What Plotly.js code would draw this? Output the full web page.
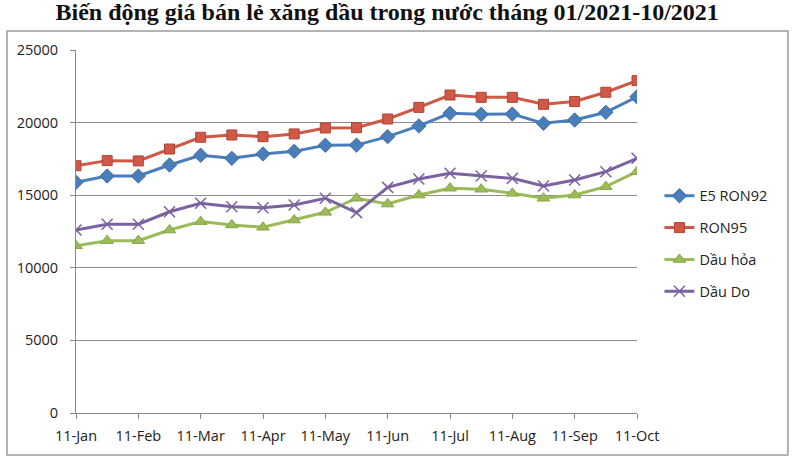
<!DOCTYPE html>
<html>
<head>
<meta charset="utf-8">
<script src="https://cdn.plot.ly/plotly-3.0.1.min.js"></script>
<style>
  html, body { margin: 0; padding: 0; background: #fff; }
  #chart { width: 800px; height: 460px; }
</style>
</head>
<body>
<div id="chart"></div>
<script>
// ------------------------------------------------------------------------------
// DATA (price adjustments every ~15 days)

const dates = ['11-Jan', '26-Jan', '11-Feb', '26-Feb', '11-Mar', '26-Mar', '11-Apr', '26-Apr',
               '11-May', '26-May', '11-Jun', '26-Jun', '11-Jul', '26-Jul', '11-Aug', '26-Aug',
               '11-Sep', '26-Sep', '11-Oct'];
const tickLabels = ['11-Jan', '11-Feb', '11-Mar', '11-Apr', '11-May', '11-Jun', '11-Jul', '11-Aug', '11-Sep', '11-Oct'];

const e5ron92 = [15890, 16320, 16320, 17080, 17750, 17540, 17840, 18020, 18440, 18450,
                 19030, 19770, 20640, 20570, 20590, 19950, 20180, 20710, 21780];
const ron95   = [17030, 17380, 17360, 18180, 18990, 19150, 19030, 19220, 19630, 19650,
                 20250, 21050, 21900, 21740, 21740, 21260, 21450, 22090, 22890];
const dauHoa  = [11520, 11870, 11870, 12600, 13180, 12950, 12790, 13290, 13820, 14790,
                 14390, 15010, 15480, 15410, 15130, 14790, 15010, 15590, 16620];
const dauDo   = [12600, 13000, 13000, 13860, 14440, 14210, 14140, 14330, 14790, 13800,
                 15540, 16120, 16510, 16320, 16160, 15630, 16050, 16620, 17540];

const seriesNames = ['E5 RON92', 'RON95', 'Dầu hỏa', 'Dầu Do'];

// ------------------------------------------------------------------------------
// STYLE

const font_family = '"Open Sans", "Noto Sans", Arial, sans-serif';

function makeTrace(name, values, color, symbol, size, markerLine) {
    return {
        x: dates,
        y: values,
        name: name,
        legendgroup: name,
        type: 'scatter',
        mode: 'lines+markers',
        line: { color: color, width: 3 },
        marker: {
            symbol: symbol,
            size: size,
            color: color,
            line: markerLine
        },
        hoverinfo: 'none'
    };
}

const traces = [
    makeTrace(seriesNames[0], e5ron92, '#4a7ebb', 'diamond', 11, { color: '#3d6ea8', width: 1 }),
    makeTrace(seriesNames[1], ron95, '#cf5846', 'square', 10, { color: '#b04536', width: 1 }),
    makeTrace(seriesNames[2], dauHoa, '#9bbb59', 'triangle-up', 11, { color: '#86a548', width: 1 }),
    makeTrace(seriesNames[3], dauDo, '#7b62a0', 'x-thin-open', 11, { color: '#7b62a0', width: 1.5 })
];

const layout = {
    width: 800,
    height: 460,
    showlegend: true,
    paper_bgcolor: '#ffffff',
    plot_bgcolor: '#ffffff',
    margin: { l: 76, r: 163, t: 50, b: 47, pad: 0 },
    title: {
        text: '<b>Biến động giá bán lẻ xăng dầu trong nước tháng 01/2021-10/2021</b>',
        font: { family: '"Liberation Serif", "Times New Roman", serif', size: 24, color: '#111' },
        x: 0.484,
        xanchor: 'center',
        y: 0.974,
        yanchor: 'middle'
    },
    xaxis: {
        type: 'category',
        range: [0, 18],
        tickmode: 'array',
        tickvals: tickLabels,
        ticktext: tickLabels,
        ticks: 'outside',
        ticklen: 5,
        tickcolor: '#888',
        ticklabelstandoff: 5,
        showline: true,
        linecolor: '#888',
        linewidth: 1,
        showgrid: false,
        zeroline: false,
        tickfont: { family: font_family, size: 14.5, color: '#222' }
    },
    yaxis: {
        range: [0, 25000],
        dtick: 5000,
        tickformat: 'd',
        ticks: 'outside',
        ticklen: 5,
        tickcolor: '#888',
        ticklabelstandoff: 9,
        showline: true,
        linecolor: '#888',
        linewidth: 1,
        gridcolor: '#8c8c8c',
        gridwidth: 1,
        zeroline: false,
        tickfont: { family: font_family, size: 14.5, color: '#222' }
    },
    legend: {
        x: 1.04,
        xanchor: 'left',
        y: 0.466,
        yanchor: 'middle',
        traceorder: 'grouped',
        tracegroupgap: 10,
        itemwidth: 30,
        bgcolor: 'rgba(0,0,0,0)',
        font: { family: font_family, size: 14.5, color: '#222' }
    },
    shapes: [
        {
            type: 'rect',
            xref: 'paper',
            yref: 'paper',
            x0: -0.123,
            x1: 1.269,
            y0: -0.116,
            y1: 1.052,
            line: { color: '#9a9a9a', width: 1.5 }
        }
    ]
};

Plotly.newPlot('chart', traces, layout, { displayModeBar: false, staticPlot: true });
</script>
</body>
</html>
